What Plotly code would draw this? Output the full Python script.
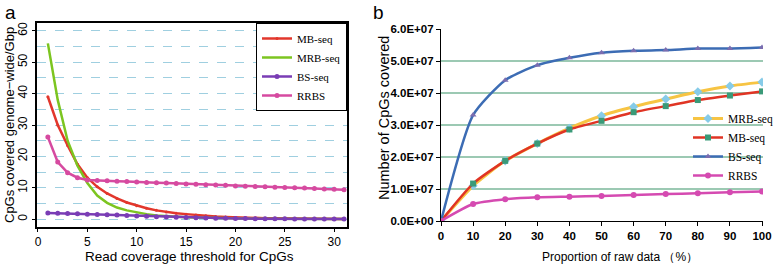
import plotly.graph_objects as go

# ---- Panel a data ----
threshold = list(range(1, 32))
mb_seq_a = [39, 30, 23.5, 17.5, 13.2, 10.3, 8.2, 6.6, 5.3, 4.3, 3.5, 2.8, 2.3, 1.9, 1.6, 1.3,
            1.05, 0.85, 0.7, 0.55, 0.45, 0.37, 0.3, 0.25, 0.2, 0.17, 0.14, 0.12, 0.1, 0.08, 0.07]
mrb_seq_a = [56, 38, 25, 17, 11.5, 7.5, 5.2, 3.7, 2.8, 2.1, 1.6, 1.2, 0.95, 0.75, 0.6, 0.5,
             0.4, 0.32, 0.26, 0.2, 0.17, 0.14, 0.12, 0.1, 0.08, 0.07, 0.06, 0.05, 0.05, 0.04, 0.04]
bs_seq_a = [2.0, 1.9, 1.8, 1.7, 1.6, 1.5, 1.4, 1.3, 1.15, 1.0, 0.9, 0.8, 0.7, 0.6, 0.5, 0.42,
            0.35, 0.3, 0.25, 0.2, 0.17, 0.14, 0.12, 0.1, 0.09, 0.08, 0.07, 0.06, 0.05, 0.05, 0.05]
rrbs_a = [26.2, 18.2, 14.8, 13.2, 12.5, 12.3, 12.2, 12.1, 12.0, 11.8, 11.7, 11.6, 11.5, 11.4, 11.2,
          11.1, 11.0, 10.9, 10.8, 10.6, 10.5, 10.4, 10.3, 10.2, 10.1, 10.0, 9.9, 9.8, 9.6, 9.5, 9.4]

# ---- Panel b data ----
proportion = [0, 10, 20, 30, 40, 50, 60, 70, 80, 90, 100]
mrb_seq_b = [0, 1.10e7, 1.88e7, 2.42e7, 2.90e7, 3.29e7, 3.57e7, 3.81e7, 4.04e7, 4.22e7, 4.34e7]
mb_seq_b = [0, 1.17e7, 1.88e7, 2.42e7, 2.86e7, 3.13e7, 3.40e7, 3.59e7, 3.78e7, 3.92e7, 4.05e7]
bs_seq_b = [0, 3.31e7, 4.40e7, 4.87e7, 5.10e7, 5.26e7, 5.32e7, 5.34e7, 5.39e7, 5.39e7, 5.42e7]
rrbs_b = [0, 0.53e7, 0.68e7, 0.74e7, 0.76e7, 0.78e7, 0.81e7, 0.84e7, 0.865e7, 0.90e7, 0.92e7]
ytick_vals_b = [0, 1e7, 2e7, 3e7, 4e7, 5e7, 6e7]
ytick_text_b = ["0.0E+00", "1.0E+07", "2.0E+07", "3.0E+07", "4.0E+07", "5.0E+07", "6.0E+07"]

SANS = "Liberation Sans, Arial, sans-serif"
SERIF = "Liberation Serif, Times New Roman, serif"

fig = go.Figure()

# Panel a traces
fig.add_trace(go.Scatter(x=threshold, y=mb_seq_a, name="MB-seq", mode="lines+markers",
                         line=dict(color="#e2372c", width=2.5), marker=dict(size=3, color="#e2372c"),
                         xaxis="x", yaxis="y", legend="legend"))
fig.add_trace(go.Scatter(x=threshold, y=mrb_seq_a, name="MRB-seq", mode="lines",
                         line=dict(color="#7cc520", width=2.5),
                         xaxis="x", yaxis="y", legend="legend"))
fig.add_trace(go.Scatter(x=threshold, y=bs_seq_a, name="BS-seq", mode="lines+markers",
                         line=dict(color="#7a3db5", width=2.5), marker=dict(size=5, color="#7a3db5"),
                         xaxis="x", yaxis="y", legend="legend"))
fig.add_trace(go.Scatter(x=threshold, y=rrbs_a, name="RRBS", mode="lines+markers",
                         line=dict(color="#d64aa0", width=2.5), marker=dict(size=5, color="#d64aa0"),
                         xaxis="x", yaxis="y", legend="legend"))

# Panel b traces
fig.add_trace(go.Scatter(x=proportion, y=mrb_seq_b, name="MRB-seq", mode="lines+markers",
                         line=dict(color="#f7c443", width=3, shape="spline", smoothing=0.6),
                         marker=dict(size=7, color="#86cbe8", symbol="diamond"),
                         xaxis="x2", yaxis="y2", legend="legend2"))
fig.add_trace(go.Scatter(x=proportion, y=mb_seq_b, name="MB-seq", mode="lines+markers",
                         line=dict(color="#e03424", width=2.5, shape="spline", smoothing=0.6),
                         marker=dict(size=6, color="#3a9a78", symbol="square"),
                         xaxis="x2", yaxis="y2", legend="legend2"))
fig.add_trace(go.Scatter(x=proportion, y=bs_seq_b, name="BS-seq", mode="lines+markers",
                         line=dict(color="#3c6cb4", width=2.5, shape="spline", smoothing=0.6),
                         marker=dict(size=6, color="#7a6db0", symbol="triangle-up"),
                         xaxis="x2", yaxis="y2", legend="legend2"))
fig.add_trace(go.Scatter(x=proportion, y=rrbs_b, name="RRBS", mode="lines+markers",
                         line=dict(color="#d54ab1", width=2.5, shape="spline", smoothing=0.6),
                         marker=dict(size=6, color="#d54ab1", symbol="circle"),
                         xaxis="x2", yaxis="y2", legend="legend2"))

W, H = 778, 266
def px_x(p):
    return p / W
def px_y(p):
    return 1 - p / H

fig.update_layout(
    width=W, height=H, margin=dict(l=0, r=0, t=0, b=0, autoexpand=False),
    paper_bgcolor="white", plot_bgcolor="white",
    font=dict(family=SANS, color="black", size=12),
    xaxis=dict(domain=[px_x(37), px_x(347)], range=[-0.1, 31.3], tickvals=[0, 5, 10, 15, 20, 25, 30],
               showline=True, linecolor="black", linewidth=1.5, mirror=True,
               ticks="outside", ticklen=3, tickcolor="black", showgrid=False, zeroline=False,
               tickfont=dict(size=12, family=SANS), anchor="y", automargin=False),
    yaxis=dict(domain=[px_y(227), px_y(23)], range=[-2.5, 62.5], tickvals=[0, 10, 20, 30, 40, 50, 60],
               showline=True, linecolor="black", linewidth=1.5, mirror=True,
               ticks="outside", ticklen=3, tickcolor="black", tickangle=-90,
               showgrid=True, gridcolor="#9fcfe0", griddash="dash", gridwidth=1.2,
               minor=dict(tickvals=[5, 15, 25, 35, 45, 55], showgrid=True, gridcolor="#9fcfe0",
                          griddash="dash", gridwidth=1.2, ticks=""),
               zeroline=False, tickfont=dict(size=12, family=SANS), anchor="x", automargin=False),
    xaxis2=dict(domain=[px_x(441), px_x(763)], range=[0, 100.3], tickvals=proportion,
                showline=True, linecolor="black", linewidth=1.2, mirror=False,
                ticks="outside", ticklen=4, tickcolor="black", showgrid=False, zeroline=False,
                tickfont=dict(size=11.5, family=SANS, weight="bold"), anchor="y2", automargin=False),
    yaxis2=dict(domain=[px_y(221), px_y(29)], range=[0, 6e7], tickvals=ytick_vals_b, ticktext=ytick_text_b,
                showline=True, linecolor="black", linewidth=1.2,
                ticks="outside", ticklen=4, tickcolor="black",
                showgrid=True, gridcolor="#9cc9b3", gridwidth=1.5, zeroline=False,
                tickfont=dict(size=11.5, family=SANS, weight="bold"), anchor="x2", automargin=False),
    legend=dict(x=px_x(347), xanchor="right", y=px_y(23), yanchor="top",
                bgcolor="white", bordercolor="black", borderwidth=1,
                font=dict(family=SERIF, size=11, color="black"), itemwidth=30,
                tracegroupgap=0, traceorder="normal"),
    legend2=dict(x=px_x(688), xanchor="left", y=px_y(104), yanchor="top",
                 bgcolor="rgba(0,0,0,0)", borderwidth=0,
                 font=dict(family=SERIF, size=11.5, color="black"), itemwidth=30,
                 traceorder="normal"),
    showlegend=True,
    annotations=[
        dict(text="a", x=px_x(3), y=px_y(0), xref="paper", yref="paper", xanchor="left", yanchor="top",
             showarrow=False, font=dict(size=19, family=SANS)),
        dict(text="b", x=px_x(371), y=px_y(0), xref="paper", yref="paper", xanchor="left", yanchor="top",
             showarrow=False, font=dict(size=19, family=SANS)),
        dict(text="CpGs covered genome\u2212wide/Gbp", x=px_x(9), y=px_y(125), xref="paper", yref="paper",
             xanchor="center", yanchor="middle", textangle=-90, showarrow=False, font=dict(size=13, family=SANS)),
        dict(text="Read coverage threshold for CpGs", x=px_x(189), y=px_y(256), xref="paper", yref="paper",
             xanchor="center", yanchor="middle", showarrow=False, font=dict(size=13.5, family=SANS)),
        dict(text="Number of CpGs covered", x=px_x(384), y=px_y(118), xref="paper", yref="paper",
             xanchor="center", yanchor="middle", textangle=-90, showarrow=False, font=dict(size=14.5, family=SANS)),
        dict(text="Proportion of raw data \uff08%\uff09", x=px_x(620), y=px_y(257), xref="paper", yref="paper",
             xanchor="center", yanchor="middle", showarrow=False, font=dict(size=12, family=SANS)),
    ],
)

fig.write_html("out.html", config={"displayModeBar": False},
               post_script="document.body.style.margin='0';document.body.style.overflow='hidden';")
